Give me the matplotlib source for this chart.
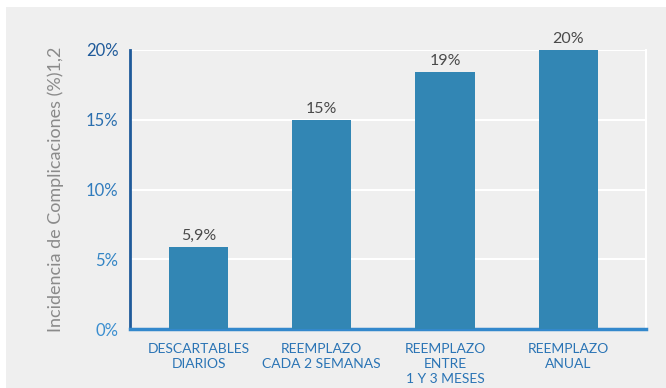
import matplotlib
matplotlib.use("Agg")
import matplotlib.pyplot as plt
from matplotlib.patches import Rectangle
import numpy as np

# data
categories = ["DESCARTABLES\nDIARIOS", "REEMPLAZO\nCADA 2 SEMANAS",
              "REEMPLAZO\nENTRE\n1 Y 3 MESES", "REEMPLAZO\nANUAL"]
values = [5.9, 15.0, 18.4, 20.0]
value_labels = ["5,9%", "15%", "19%", "20%"]
yticks = [0, 5, 10, 15, 20]
ytick_labels = ["0%", "5%", "10%", "15%", "20%"]
ytick_colors = ["#3a8ed0", "#3385c5", "#2f7bbd", "#2a6eae", "#1f5a9a"]

plt.rcParams["font.family"] = ["Lato", "DejaVu Sans"]

bg = "#efefef"
fig = plt.figure(figsize=(6.66, 3.88), dpi=100, facecolor="white")
fig.add_artist(Rectangle((6 / 666, 0), 1, (388 - 7) / 388,
                         transform=fig.transFigure, facecolor=bg,
                         edgecolor="none", zorder=-10))

ax = fig.add_axes([129.5 / 666, (388 - 329) / 388,
                   (646 - 129.5) / 666, (329 - 50) / 388])
ax.set_facecolor(bg)

x = np.arange(len(categories))
ax.bar(x, values, width=0.48, color="#3286b4", zorder=3)

for xi, v, lab in zip(x, values, value_labels):
    ax.annotate(lab, (xi, v), xytext=(0, 3), textcoords="offset points",
                ha="center", va="bottom", fontsize=11.5, color="#4a4a4a",
                clip_on=False)

ax.set_xlim(-0.56, 3.63)
ax.set_ylim(0, 20)
ax.set_yticks(yticks)
ax.set_yticklabels(ytick_labels, fontsize=12)
for t, c in zip(ax.get_yticklabels(), ytick_colors):
    t.set_color(c)
ax.set_xticks(x)
ax.set_xticklabels(categories, fontsize=10, color="#2a74b5", linespacing=1.3)
ax.tick_params(axis="both", length=0)
ax.tick_params(axis="y", pad=8)
ax.tick_params(axis="x", pad=10)

ax.yaxis.grid(True, color="white", lw=1.5, zorder=0)
ax.set_axisbelow(True)

ax.spines["top"].set_visible(False)
ax.spines["right"].set_color("white")
ax.spines["right"].set_linewidth(1.5)
ax.spines["left"].set_color("#1f5a9a")
ax.spines["left"].set_linewidth(2)
ax.spines["bottom"].set_color("#3388cc")
ax.spines["bottom"].set_linewidth(2.5)

ax.set_ylabel("Incidencia de Complicaciones (%)1,2", fontsize=13,
              color="#8a8a8a", labelpad=16)

fig.savefig("out.png", dpi=100, facecolor="white")
